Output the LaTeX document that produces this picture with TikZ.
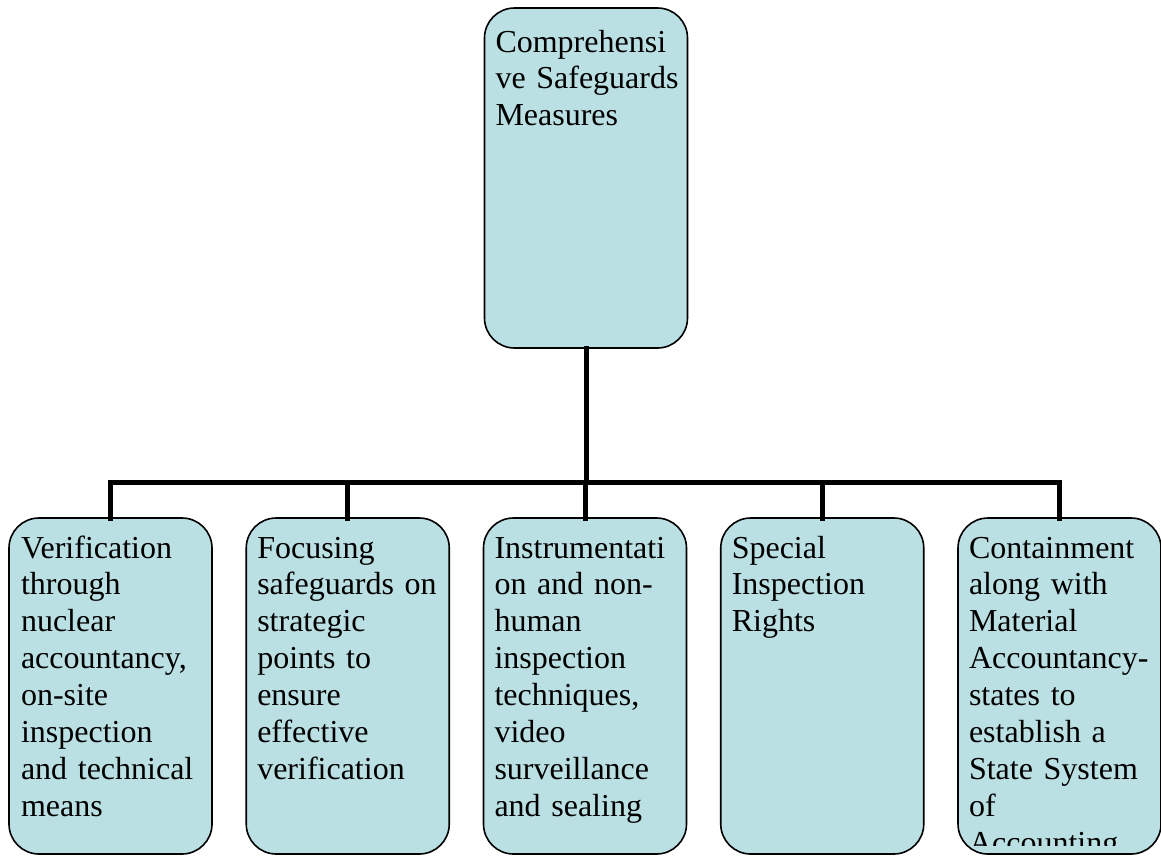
\documentclass[tikz,border=0pt]{standalone}
\usepackage{fontspec}
\setmainfont{Liberation Serif}
\definecolor{boxfill}{RGB}{187,224,227}
\begin{document}
\begin{tikzpicture}[x=1pt,y=-1pt,
  card/.style={draw=black, line width=1.6pt, fill=boxfill, rounded corners=30pt,
    inner sep=0pt, outer sep=0pt, minimum width=203pt},
  label/.style={inner sep=0pt, outer sep=0pt, anchor=base west, align=left,
    text width=200pt, font=\fontsize{32}{36.9}\selectfont},
  conn/.style={line width=5pt, line join=miter, line cap=rect}]
\useasboundingbox (0,0) rectangle (1161,857);

% root box
\node[card, minimum height=340pt] (root) at (586,178) {};

% child boxes
\foreach \i/\cx in {1/110.5, 2/347.75, 3/585, 4/822.25, 5/1059.5}
  \node[card, minimum height=336pt] (b\i) at (\cx,686) {};

% connectors
\coordinate (j) at (586,482);
\draw[conn] (root.south) -- (root.south |- j);
\draw[conn] (b1.north) -- (b1.north |- j) -- (b5.north |- j) -- (b5.north);
\foreach \i in {2,3,4}
  \draw[conn] (b\i.north) -- (b\i.north |- j);

% texts
\node[label] (t0) at ([xshift=11pt] root.north west |- 0,52) {Comprehensi\\ve Safeguards\\Measures};
\node[label] (t1) at ([xshift=12pt] b1.north west |- 0,558) {Verification\\through\\nuclear\\accountancy,\\on-site\\inspection\\and technical\\means};
\node[label] (t2) at ([xshift=11pt] b2.north west |- 0,558) {Focusing\\safeguards on\\strategic\\points to\\ensure\\effective\\verification};
\node[label] (t3) at ([xshift=11pt] b3.north west |- 0,558) {Instrumentati\\on and non-\\human\\inspection\\techniques,\\video\\surveillance\\and sealing};
\node[label] (t4) at ([xshift=11pt] b4.north west |- 0,558) {Special\\Inspection\\Rights};
\begin{scope}
  % the last line runs past the box and is cut off
  \clip (b5.north west) rectangle ([yshift=9pt] b5.south east);
  \node[label] (t5) at ([xshift=11pt] b5.north west |- 0,558) {Containment\\along with\\Material\\Accountancy-\\states to\\establish a\\State System\\of\\Accounting};
\end{scope}
\end{tikzpicture}
\end{document}
